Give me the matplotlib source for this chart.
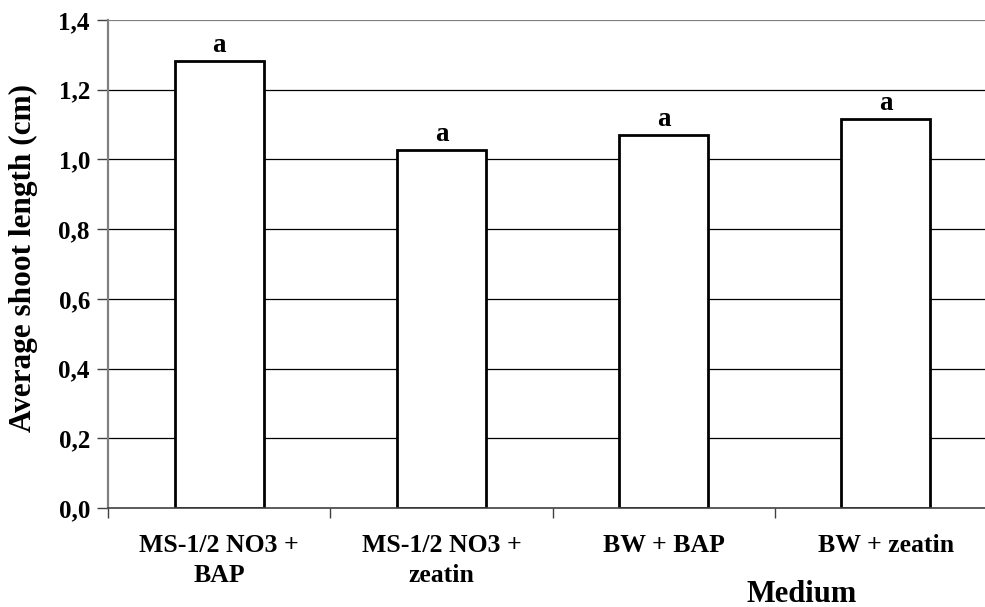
import matplotlib.pyplot as plt
import numpy as np

# data
media = ['MS-1/2 NO3 +\nBAP', 'MS-1/2 NO3 +\nzeatin', 'BW + BAP', 'BW + zeatin']
shoot_length = [1.282, 1.027, 1.070, 1.115]
letters = ['a', 'a', 'a', 'a']
yticks = [0.0, 0.2, 0.4, 0.6, 0.8, 1.0, 1.2, 1.4]

plt.rcParams['font.family'] = ['Liberation Serif', 'DejaVu Serif']
plt.rcParams['font.weight'] = 'bold'

fig = plt.figure(figsize=(9.85, 6.07), dpi=100)
# axes runs a little past the right edge, like the original
ax = fig.add_axes([108/985, 1 - 508/607, 889/985, 488/607])

x = np.arange(len(media))
for v in yticks[1:-1]:
    ax.axhline(v, color='black', lw=0.9, zorder=0)
ax.axhline(1.4, color='#808080', lw=1.6, zorder=0)

ax.bar(x, shoot_length, width=0.4, color='white', edgecolor='black', linewidth=2, zorder=2)
for xi, v, t in zip(x, shoot_length, letters):
    ax.text(xi, v + 0.01, t, ha='center', va='bottom', fontsize=19.5, fontweight='bold')

ax.set_xlim(-0.5, len(media) - 0.5)
ax.set_ylim(0, 1.4)
ax.set_yticks(yticks)
ax.set_yticklabels([('%.1f' % v).replace('.', ',') for v in yticks], fontsize=18, fontweight='bold')
ax.set_xticks(x)
ax.set_xticklabels(media, fontsize=18.5, fontweight='bold', linespacing=1.35)
ax.set_xticks(np.arange(len(media) + 1) - 0.5, minor=True)
ax.tick_params(axis='x', which='major', length=0, pad=19)
ax.tick_params(axis='x', which='minor', length=7, width=1, color='#404040')
ax.tick_params(axis='y', length=8, width=1, color='#404040', pad=5)

for s in ['top', 'right']:
    ax.spines[s].set_visible(False)
ax.spines['left'].set_color('#808080')
ax.spines['left'].set_linewidth(1.6)
ax.spines['bottom'].set_color('#404040')
ax.spines['bottom'].set_linewidth(1.2)

fig.text(23/985, 1 - 258/607, 'Average shoot length (cm)', rotation=90, ha='center', va='center',
         fontsize=22.5, fontweight='bold')
fig.text(802/985, 1 - 594/607, 'Medium', ha='center', va='center', fontsize=22, fontweight='bold')

fig.savefig('out.png', dpi=100)
